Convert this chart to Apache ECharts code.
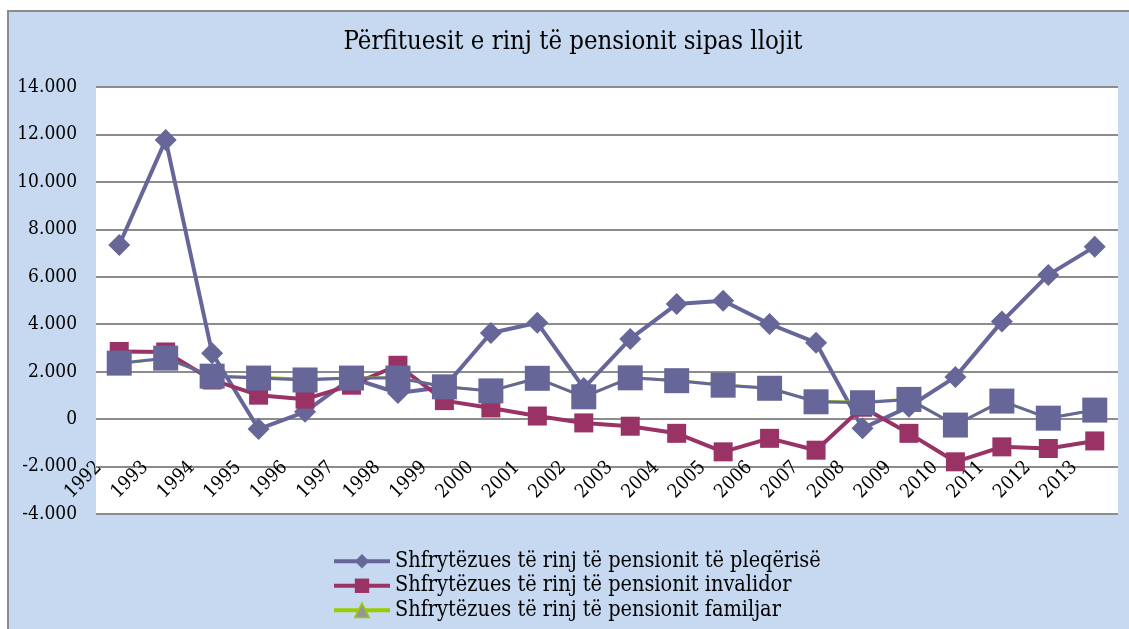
<!DOCTYPE html>
<html>
<head>
<meta charset="utf-8">
<script src="https://cdn.jsdelivr.net/npm/echarts@6/dist/echarts.min.js"></script>
<style>
  html, body { margin: 0; padding: 0; background: #ffffff; }
  #chart { width: 1129px; height: 629px; }
</style>
</head>
<body>
<div id="chart"></div>
<script>
var years = ["1992", "1993", "1994", "1995", "1996", "1997", "1998", "1999", "2000", "2001", "2002",
  "2003", "2004", "2005", "2006", "2007", "2008", "2009", "2010", "2011", "2012", "2013"];

// Shfrytezues te rinj te pensionit te pleqerise
var pleqerise = [7340, 11770, 2780, -420, 310, 1730, 1100, 1350, 3630, 4060, 1310,
  3380, 4850, 4990, 4010, 3220, -390, 520, 1780, 4110, 6080, 7270];
// ... invalidor
var invalidor = [2850, 2830, 1650, 1010, 840, 1430, 2270, 780, 470, 130, -160,
  -300, -600, -1380, -810, -1310, 500, -600, -1800, -1170, -1240, -920];
// ... familjar (almost the same as the 4th series, hidden under it)
var familjar = [2330, 2550, 1820, 1770, 1690, 1740, 1750, 1370, 1200, 1730, 950,
  1750, 1640, 1450, 1310, 760, 720, 850, -240, 770, 50, 390];
// 4th series, its legend entry is cut off in the picture
var seria4 = [2360, 2570, 1810, 1730, 1650, 1730, 1730, 1360, 1190, 1720, 940,
  1740, 1620, 1430, 1300, 730, 690, 830, -250, 760, 40, 380];

var seriesNames = [
  "Shfrytëzues të rinj të pensionit të pleqërisë",
  "Shfrytëzues të rinj të pensionit invalidor",
  "Shfrytëzues të rinj të pensionit familjar"
];

var FONT = "DejaVu Serif Condensed";

function formatThousands(v) {
  var neg = v < 0;
  var s = String(Math.abs(v));
  s = s.replace(/\B(?=(\d{3})+(?!\d))/g, ".");
  return (neg ? "-" : "") + s;
}

var myChart = echarts.init(document.getElementById("chart"));

var option = {
  animation: false,
  backgroundColor: "#ffffff",
  graphic: [{
    type: "rect",
    z: -100,
    shape: { x: 8, y: 11, width: 1200, height: 700 },
    style: { fill: "#c6d9f0", stroke: "#8c8c8c", lineWidth: 2 }
  }],
  title: {
    text: "Përfituesit e rinj të pensionit sipas llojit",
    left: 573,
    top: 29,
    textAlign: "center",
    padding: 0,
    textStyle: { fontFamily: FONT, fontSize: 25.5, fontWeight: "normal", color: "#000" }
  },
  legend: {
    data: [
      seriesNames[0],
      seriesNames[1],
      { name: seriesNames[2], itemStyle: { color: "#969696", borderColor: "#99cc00", borderWidth: 1.5 } }
    ],
    orient: "vertical",
    left: 332,
    top: 549,
    padding: 0,
    itemWidth: 56,
    itemHeight: 18,
    itemGap: 0,
    lineStyle: { width: 4 },
    textStyle: { fontFamily: FONT, fontSize: 21.5, color: "#000", lineHeight: 24.5 }
  },
  grid: {
    left: 96,
    right: 11,
    top: 87,
    bottom: 115,
    show: true,
    backgroundColor: "#ffffff",
    borderWidth: 0
  },
  xAxis: {
    type: "category",
    data: years,
    boundaryGap: true,
    position: "bottom",
    offset: -95,
    axisLine: { show: false, onZero: false },
    axisTick: { show: false },
    axisLabel: {
      interval: 0,
      rotate: 45,
      margin: 25,
      padding: [0, 29, 0, 0],
      fontFamily: FONT,
      fontSize: 19,
      color: "#000"
    }
  },
  yAxis: {
    type: "value",
    min: -4000,
    max: 14000,
    interval: 2000,
    axisLine: { show: false },
    axisTick: { show: false },
    axisLabel: {
      margin: 19,
      fontFamily: FONT,
      fontSize: 19,
      color: "#000",
      formatter: formatThousands
    },
    splitLine: { lineStyle: { color: "#8c8c8c", width: 2 } }
  },
  series: [
    {
      name: seriesNames[0],
      type: "line",
      data: pleqerise,
      symbol: "diamond",
      symbolSize: 22,
      lineStyle: { color: "#666699", width: 4 },
      itemStyle: { color: "#666699" }
    },
    {
      name: seriesNames[1],
      type: "line",
      data: invalidor,
      symbol: "rect",
      symbolSize: 19,
      lineStyle: { color: "#993366", width: 4 },
      itemStyle: { color: "#993366" }
    },
    {
      name: seriesNames[2],
      type: "line",
      data: familjar,
      symbol: "triangle",
      symbolSize: 16,
      lineStyle: { color: "#99cc00", width: 2.5 },
      itemStyle: { color: "#969696", borderColor: "#99cc00", borderWidth: 2 }
    },
    {
      name: "seria4",
      type: "line",
      data: seria4,
      symbol: "rect",
      symbolSize: 25,
      lineStyle: { color: "#666699", width: 3 },
      itemStyle: { color: "#666699" }
    }
  ]
};

myChart.setOption(option);
</script>
</body>
</html>
